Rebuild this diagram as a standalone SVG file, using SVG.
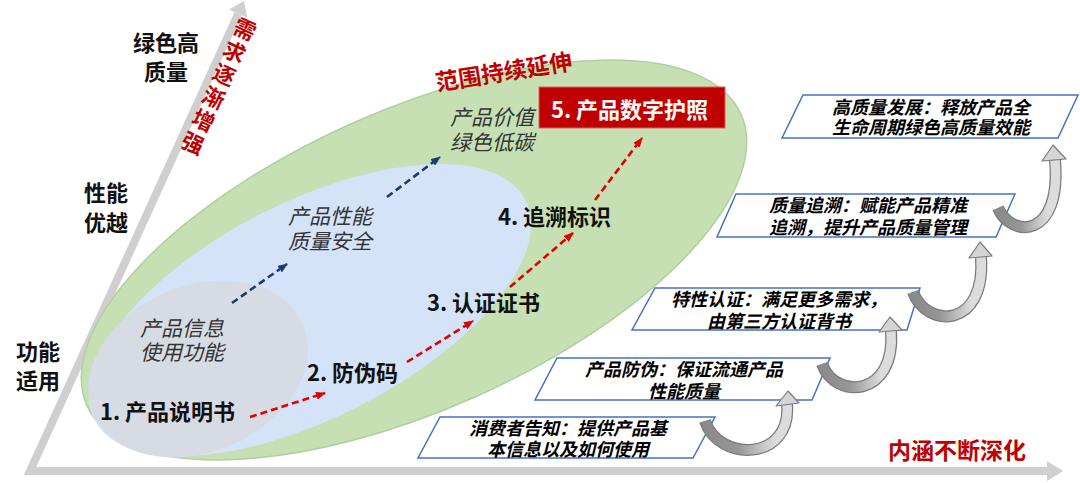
<svg xmlns="http://www.w3.org/2000/svg" width="1080" height="483" viewBox="0 0 1080 483">
<defs>
<style>
text{font-family:"Noto Sans CJK SC","Noto Sans",sans-serif}
.ax{font-weight:bold;font-size:22px;fill:#111;text-anchor:middle}
.step{font-weight:bold;font-size:22px;fill:#111}
.it{font-style:italic;font-size:21px;fill:#333}
.bx{font-style:italic;font-weight:bold;font-size:18px;fill:#000;text-anchor:middle}
.red{fill:#c00000;font-weight:bold}
.para{fill:#fff;stroke:#4472c4;stroke-width:1.5}
.dashb{fill:none;stroke:#1f3a6e;stroke-width:2.6;stroke-dasharray:7 4}
.dashr{fill:none;stroke:#e00000;stroke-width:2.6;stroke-dasharray:7 4}
.band-o{fill:none;stroke:#7a7a7a;stroke-width:12}
.band-i{fill:none;stroke:url(#cg);stroke-width:9.5}
.head{fill:#d4d4d4;stroke:#7a7a7a;stroke-width:1.2;stroke-linejoin:round}
</style>
<linearGradient id="cg" x1="0" y1="0" x2="1" y2="0">
<stop offset="0" stop-color="#8a8a8a"/>
<stop offset="0.4" stop-color="#979797"/>
<stop offset="0.85" stop-color="#dcdcdc"/>
</linearGradient>
<marker id="mb" viewBox="0 0 10 8" refX="9" refY="4" markerWidth="10" markerHeight="8" markerUnits="userSpaceOnUse" orient="auto">
<path d="M0,0 L10,4 L0,8 z" fill="#1f3a6e"/>
</marker>
<marker id="mr" viewBox="0 0 10 8" refX="9" refY="4" markerWidth="10" markerHeight="8" markerUnits="userSpaceOnUse" orient="auto">
<path d="M0,0 L10,4 L0,8 z" fill="#e00000"/>
</marker>
</defs>
<rect width="1080" height="483" fill="#fff"/>

<g id="axes">
<polyline points="238.2,13.7 30,471 1048,471" fill="none" stroke="#d0cece" stroke-width="8" stroke-linejoin="miter"/>
<polygon points="244,1 247.3,17.8 229.1,9.6" fill="#d0cece"/>
<polygon points="1063,471 1047,461 1047,481" fill="#d0cece"/>
</g>

<g id="regions">
<ellipse id="green-region" cx="414" cy="260" rx="358" ry="150" transform="rotate(-24 414 260)" fill="#c6e0b4" stroke="#b0cf9e" stroke-width="1.5"/>
<ellipse id="blue-region" cx="310" cy="310" rx="242" ry="108" transform="rotate(-27 310 310)" fill="#d5e3f9"/>
<ellipse id="gray-region" cx="198" cy="369" rx="114" ry="83" transform="rotate(-23 198 369)" fill="#d6dbe4"/>
</g>

<g id="axis-labels">
<text class="ax" x="166" y="51">绿色高</text>
<text class="ax" x="166" y="80">质量</text>
<text class="ax" x="106" y="201">性能</text>
<text class="ax" x="106" y="231">优越</text>
<text class="ax" x="38" y="360">功能</text>
<text class="ax" x="38" y="389">适用</text>
<text class="red" font-size="22" x="231.5 221.1 210.7 200.3 189.9 179.5" y="32 54.8 77.6 100.4 123.2 146" rotate="25">需求逐渐增强</text>
<text class="red" font-size="23" x="437" y="91" transform="rotate(-9 437 91)">范围持续延伸</text>
<text class="red" font-size="23" x="888" y="459">内涵不断深化</text>
</g>

<g id="region-labels">
<text class="it" x="140" y="336">产品信息</text>
<text class="it" x="140" y="360">使用功能</text>
<text class="it" x="288" y="224">产品性能</text>
<text class="it" x="288" y="249">质量安全</text>
<text class="it" x="450" y="125">产品价值</text>
<text class="it" x="450" y="150">绿色低碳</text>
</g>

<g id="connectors">
<line class="dashb" x1="232" y1="303" x2="287" y2="264" marker-end="url(#mb)"/>
<line class="dashb" x1="387" y1="197" x2="440" y2="157" marker-end="url(#mb)"/>
<line class="dashr" x1="250" y1="417" x2="325" y2="393" marker-end="url(#mr)"/>
<line class="dashr" x1="407" y1="362" x2="473" y2="321" marker-end="url(#mr)"/>
<line class="dashr" x1="510" y1="287" x2="573" y2="233" marker-end="url(#mr)"/>
<line class="dashr" x1="595" y1="200" x2="642" y2="138" marker-end="url(#mr)"/>
</g>

<g id="step1"><text class="step" x="100" y="420">1. 产品说明书</text></g>
<g id="step2"><text class="step" x="307" y="381">2. 防伪码</text></g>
<g id="step3"><text class="step" x="427" y="311">3. 认证证书</text></g>
<g id="step4"><text class="step" x="498" y="225">4. 追溯标识</text></g>
<g id="step5">
<rect x="539" y="87" width="186" height="41" fill="#c00000" stroke="#d86060" stroke-width="1"/>
<text class="step" x="551" y="118" style="fill:#fff" font-size="23">5. 产品数字护照</text>
</g>

<g id="box1">
<polygon class="para" points="803,95 1078,95 1058,138 782,138"/>
<text class="bx" x="931" y="114">高质量发展：释放产品全</text>
<text class="bx" x="931" y="134">生命周期绿色高质量效能</text>
</g>
<g id="box2">
<polygon class="para" points="736,194 1015,194 996,237 717,237"/>
<text class="bx" x="868" y="212">质量追溯：赋能产品精准</text>
<text class="bx" x="868" y="234">追溯，提升产品质量管理</text>
</g>
<g id="box3">
<polygon class="para" points="655,288 920,288 907,330 632,330"/>
<text class="bx" x="779" y="306">特性认证：满足更多需求，</text>
<text class="bx" x="779" y="328">由第三方认证背书</text>
</g>
<g id="box4">
<polygon class="para" points="557,358 830,358 812,400 535,400"/>
<text class="bx" x="684" y="376">产品防伪：保证流通产品</text>
<text class="bx" x="684" y="398">性能质量</text>
</g>
<g id="box5">
<polygon class="para" points="440,417 715,417 693,458 418,458"/>
<text class="bx" x="568" y="435">消费者告知：提供产品基</text>
<text class="bx" x="568" y="456">本信息以及如何使用</text>
</g>

<g id="curved-arrows">
<path class="band-o" d="M705,421 C718,462 792,462 787,404"/>
<path class="band-i" d="M705,421 C718,462 792,462 787,404"/>
<polygon class="head" points="788,391 799,403 776,406"/>
<path class="band-o" d="M822,364 C835,400 896,398 891,331"/>
<path class="band-i" d="M822,364 C835,400 896,398 891,331"/>
<polygon class="head" points="890,317 902,330 879,332"/>
<path class="band-o" d="M913,292 C926,328 986,330 981,257"/>
<path class="band-i" d="M913,292 C926,328 986,330 981,257"/>
<polygon class="head" points="980,242 992,256 969,258"/>
<path class="band-o" d="M998,208 C1011,238 1062,240 1055,160"/>
<path class="band-i" d="M998,208 C1011,238 1062,240 1055,160"/>
<polygon class="head" points="1053,145 1066,159 1042,161"/>
</g>
</svg>
